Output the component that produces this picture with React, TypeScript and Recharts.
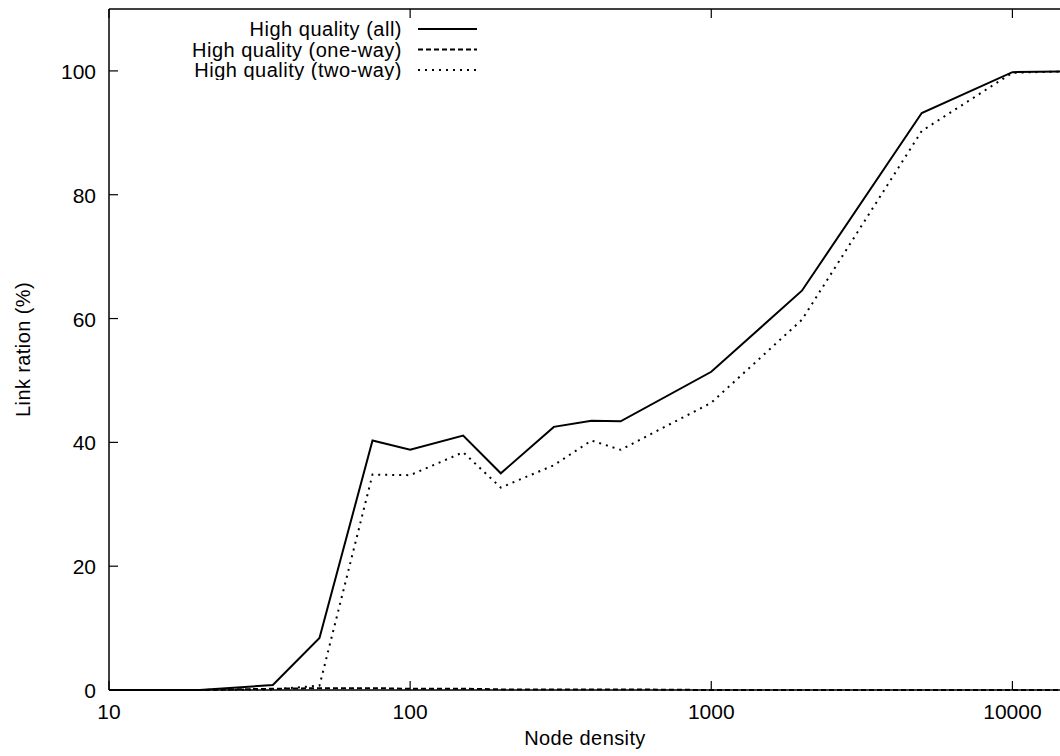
import { Legend, Line, LineChart, XAxis, YAxis } from 'recharts'

// node density samples (log x)
const densities = [10, 20, 35, 50, 75, 100, 150, 200, 300, 400, 500, 1000, 2000, 5000, 10000, 14500]
const allLinks = [0, 0, 0.8, 8.4, 40.3, 38.8, 41.1, 35.0, 42.5, 43.5, 43.4, 51.4, 64.5, 93.2, 99.8, 99.9]
const oneWay = [0, 0, 0.2, 0.3, 0.3, 0.2, 0.2, 0.1, 0.1, 0.1, 0.1, 0, 0, 0, 0, 0]
const twoWay = [0, 0, 0.1, 0.7, 34.8, 34.7, 38.4, 32.7, 36.3, 40.3, 38.8, 46.4, 59.8, 90.3, 99.7, 99.9]

const majorX = [10, 100, 1000, 10000]
const minorX = [20, 30, 40, 50, 60, 70, 80, 90, 200, 300, 400, 500, 600, 700, 800, 900, 2000, 3000, 4000, 5000, 6000, 7000, 8000, 9000]
const yTicks = [0, 20, 40, 60, 80, 100]

const data = densities.map((d, i) => ({
  density: d,
  all: allLinks[i],
  oneWay: oneWay[i],
  twoWay: twoWay[i],
}))

const FONT = '"Liberation Sans", Arial, Helvetica, sans-serif'
const INK = '#000'
const X_DOMAIN: [number, number] = [10, 14500]
const tickLineStyle = { stroke: INK, strokeWidth: 1.2 }

// labels only; the tick marks themselves are recharts' own (inward, negative tickSize)
function BottomLabel({ x, y, payload }: any) {
  return (
    <text x={x} y={Number(y) + 38} textAnchor="middle" fontFamily={FONT} fontSize={21} fill={INK}>
      {payload.value}
    </text>
  )
}

function LeftLabel({ x, y, payload }: any) {
  return (
    <text x={x} y={Number(y) + 8} textAnchor="end" fontFamily={FONT} fontSize={21} fill={INK}>
      {payload.value}
    </text>
  )
}

function NoLabel() {
  return <g />
}

function renderLegend({ payload }: any) {
  return (
    <svg width={480} height={80} style={{ display: 'block' }}>
      {(payload || []).map((entry: any, i: number) => {
        const cy = 29 + i * 20.5
        return (
          <g key={entry.value}>
            <text x={402} y={cy + 7} textAnchor="end" fontFamily={FONT} fontSize={20} letterSpacing={0.5} fill={INK}>
              {entry.value}
            </text>
            <line x1={418} x2={477} y1={cy} y2={cy} stroke={INK} strokeWidth={2} strokeDasharray={entry.payload?.strokeDasharray} />
          </g>
        )
      })}
    </svg>
  )
}

export default function App() {
  return (
    <div style={{ position: 'absolute', left: 0, top: 0, width: 1060, height: 756, overflow: 'hidden', background: '#fff' }}>
      <LineChart width={1062} height={756} data={data} margin={{ top: 0, right: 0, bottom: 0, left: 0 }}>
        {/* minor ticks along the bottom, zero height so it sits on the frame */}
        <XAxis
          xAxisId="minorBottom"
          dataKey="density"
          type="number"
          scale="log"
          domain={X_DOMAIN}
          allowDataOverflow
          ticks={minorX}
          interval={0}
          height={0}
          stroke={INK}
          tickSize={-5}
          tickLine={tickLineStyle}
          tick={<NoLabel />}
          axisLine={false}
        />
        <XAxis
          xAxisId="bottom"
          dataKey="density"
          type="number"
          scale="log"
          domain={X_DOMAIN}
          allowDataOverflow
          ticks={majorX}
          interval={0}
          height={66}
          stroke={INK}
          tickSize={-9}
          tickMargin={0}
          tickLine={tickLineStyle}
          tick={<BottomLabel />}
          axisLine={{ stroke: INK, strokeWidth: 1.5 }}
          label={(p: any) => {
            const vb = p.viewBox
            return (
              <text x={vb.x + vb.width / 2} y={vb.y + 55} textAnchor="middle" fontFamily={FONT} fontSize={20} letterSpacing={0.4} fill={INK}>
                Node density
              </text>
            )
          }}
        />
        <XAxis
          xAxisId="minorTop"
          orientation="top"
          dataKey="density"
          type="number"
          scale="log"
          domain={X_DOMAIN}
          allowDataOverflow
          ticks={minorX}
          interval={0}
          height={0}
          stroke={INK}
          tickSize={-5}
          tickLine={tickLineStyle}
          tick={<NoLabel />}
          axisLine={false}
        />
        <XAxis
          xAxisId="top"
          orientation="top"
          dataKey="density"
          type="number"
          scale="log"
          domain={X_DOMAIN}
          allowDataOverflow
          ticks={majorX}
          interval={0}
          height={9}
          stroke={INK}
          tickSize={-9}
          tickLine={tickLineStyle}
          tick={<NoLabel />}
          axisLine={{ stroke: INK, strokeWidth: 1.5 }}
        />
        <YAxis
          yAxisId="left"
          type="number"
          domain={[0, 110]}
          ticks={yTicks}
          interval={0}
          width={109}
          stroke={INK}
          tickSize={-9}
          tickMargin={22}
          tickLine={tickLineStyle}
          tick={<LeftLabel />}
          axisLine={{ stroke: INK, strokeWidth: 1.5 }}
          label={(p: any) => {
            const vb = p.viewBox
            const cx = vb.x + 23
            const cy = vb.y + vb.height / 2
            return (
              <text x={cx} y={cy} transform={`rotate(-90, ${cx}, ${cy})`} textAnchor="middle" dominantBaseline="central" fontFamily={FONT} fontSize={20} letterSpacing={0.4} fill={INK}>
                Link ration (%)
              </text>
            )
          }}
        />
        <YAxis
          yAxisId="right"
          orientation="right"
          type="number"
          domain={[0, 110]}
          ticks={yTicks}
          interval={0}
          width={1}
          stroke={INK}
          tickSize={-9}
          tickLine={tickLineStyle}
          tick={<NoLabel />}
          axisLine={{ stroke: INK, strokeWidth: 1.5 }}
        />
        <Legend layout="vertical" align="center" verticalAlign="middle" wrapperStyle={{ left: 0, top: 0, width: 480 }} content={renderLegend} />
        <Line xAxisId="bottom" yAxisId="left" type="linear" dataKey="all" name="High quality (all)" stroke={INK} strokeWidth={2} dot={false} isAnimationActive={false} />
        <Line xAxisId="bottom" yAxisId="left" type="linear" dataKey="oneWay" name="High quality (one-way)" stroke={INK} strokeWidth={2} strokeDasharray="5 3" dot={false} isAnimationActive={false} />
        <Line xAxisId="bottom" yAxisId="left" type="linear" dataKey="twoWay" name="High quality (two-way)" stroke={INK} strokeWidth={2} strokeDasharray="2 5" dot={false} isAnimationActive={false} />
      </LineChart>
    </div>
  )
}
